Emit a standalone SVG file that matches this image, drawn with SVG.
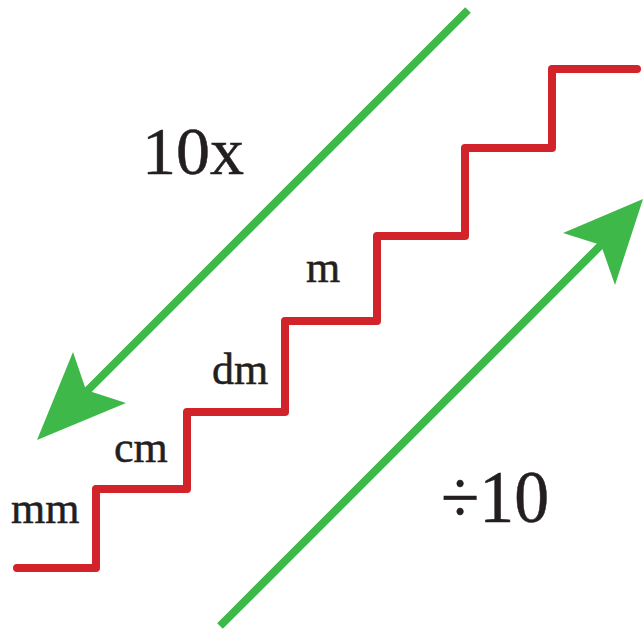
<svg xmlns="http://www.w3.org/2000/svg" width="643" height="632" viewBox="0 0 643 632">
<style>
.lbl{font-family:"Liberation Serif","Times New Roman",serif;fill:#231f20;stroke:#231f20;stroke-width:0.5}
.stair{fill:none;stroke:#d2232a;stroke-width:8;stroke-linecap:round;stroke-linejoin:round}
.shaft{fill:none;stroke:#3fb84a;stroke-width:8;stroke-linecap:butt}
.head{fill:#3fb84a}
</style>
<rect width="643" height="632" fill="#ffffff"/>
<g id="stairs">
<path class="stair" d="M17,568 H96 V489 H187 V412 H285 V321 H377 V236 H465 V148 H552 V69 H637"/>
</g>
<g id="connectors">
<g id="arrow-down">
<line class="shaft" x1="468" y1="10" x2="80" y2="398"/>
<polygon class="head" points="37,440 73,352 86,390 126,403"/>
</g>
<g id="arrow-up">
<line class="shaft" x1="220" y1="626" x2="602" y2="244"/>
<polygon class="head" points="643,199 563,233 601,245 615,285"/>
</g>
</g>
<g id="label-10x"><text class="lbl" x="142" y="174" font-size="68">10x</text></g>
<g id="label-div10"><text class="lbl" x="441" y="522" font-size="74" textLength="108" lengthAdjust="spacingAndGlyphs">÷10</text></g>
<g id="label-mm"><text class="lbl" x="11" y="523" font-size="44">mm</text></g>
<g id="label-cm"><text class="lbl" x="114" y="462" font-size="44">cm</text></g>
<g id="label-dm"><text class="lbl" x="212" y="384" font-size="44">dm</text></g>
<g id="label-m"><text class="lbl" x="306" y="282" font-size="44">m</text></g>
</svg>
